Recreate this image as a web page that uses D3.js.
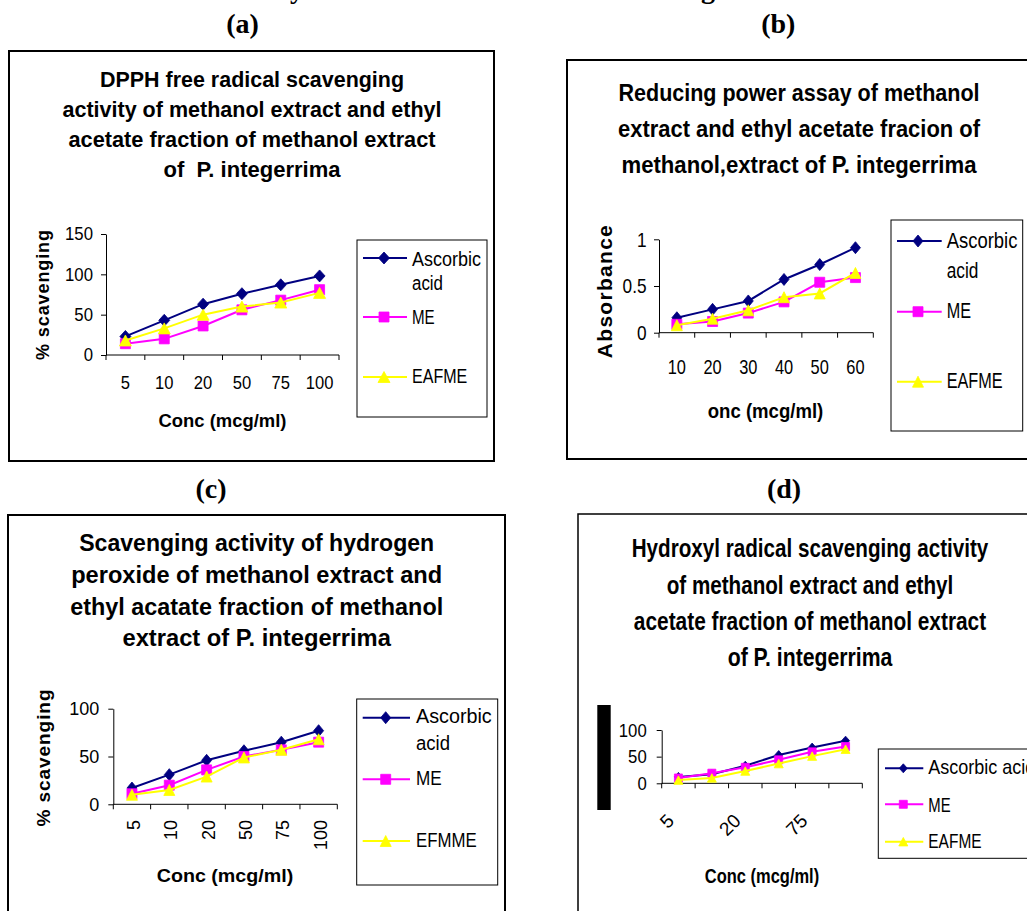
<!DOCTYPE html>
<html><head><meta charset="utf-8">
<script src="https://cdn.jsdelivr.net/npm/d3@7/dist/d3.min.js"></script>
<style>body{margin:0;background:#fff;} svg{display:block;} text{white-space:pre;}</style>
</head><body>
<svg id="chart" width="1027" height="911"></svg>
<script>
// ---------------- data ----------------
const seriesNames = ["Ascorbic acid", "ME", "EAFME"];
const seriesNamesC = ["Ascorbic acid", "ME", "EFMME"];

const catsA = ["5", "10", "20", "50", "75", "100"];
const ascorbicA = [23, 43, 63, 76, 87, 98];
const meA = [14, 20, 36, 56, 68, 81];
const eafmeA = [18, 33, 50, 60, 65, 77];
const yTicksA = [0, 50, 100, 150];

const catsB = ["10", "20", "30", "40", "50", "60"];
const ascorbicB = [0.16, 0.25, 0.34, 0.57, 0.73, 0.91];
const meB = [0.09, 0.12, 0.21, 0.33, 0.54, 0.59];
const eafmeB = [0.08, 0.15, 0.24, 0.38, 0.42, 0.64];
const yTicksB = [0, 0.5, 1];

const catsC = ["5", "10", "20", "50", "75", "100"];
const ascorbicC = [17, 31, 46, 56, 65, 77];
const meC = [11, 20, 36, 50, 57, 65];
const efmmeC = [10, 15, 29, 49, 57, 68];
const yTicksC = [0, 50, 100];

const catsD = ["5", "10", "20", "50", "75", "100"];
const shownLabelsD = ["5", "20", "75"];
const ascorbicD = [12, 17, 33, 53, 67, 80];
const meD = [10, 19, 30, 44, 59, 69];
const eafmeD = [6, 10, 23, 37, 51, 64];
const yTicksD = [0, 50, 100];

const titleA = ["DPPH free radical scavenging", "activity of methanol extract and ethyl", "acetate fraction of methanol extract", "of  P. integerrima"];
const titleB = ["Reducing power assay of methanol", "extract and ethyl acetate fracion of", "methanol,extract of P. integerrima"];
const titleC = ["Scavenging activity of hydrogen", "peroxide of methanol extract and", "ethyl acatate fraction of methanol", "extract of P. integerrima"];
const titleD = ["Hydroxyl radical scavenging activity", "of methanol extract and ethyl", "acetate fraction of methanol extract", "of P. integerrima"];

// ---------------- drawing ----------------
const svg = d3.select("#chart");
const SANS = '"Liberation Sans", Arial, sans-serif';
const SERIF = '"Liberation Serif", "Times New Roman", serif';
const colors = ["#000080", "#FF00FF", "#FFFF00"];

function txt(parent, s, x, y, o) {
  const t = parent.append("text").attr("x", x).attr("y", y).text(s)
    .attr("font-family", o.serif ? SERIF : SANS)
    .attr("font-size", o.size)
    .attr("font-weight", o.bold ? "bold" : "normal")
    .attr("text-anchor", o.anchor || "start")
    .attr("fill", "#000");
  if (o.len) t.attr("textLength", o.len).attr("lengthAdjust", o.adjust || "spacingAndGlyphs");
  if (o.transform) t.attr("transform", o.transform);
  return t;
}
function condense(sel, f) {
  sel.each(function () {
    const L = this.getComputedTextLength();
    this.setAttribute("textLength", L * f);
    this.setAttribute("lengthAdjust", "spacingAndGlyphs");
  });
}
function marker(g, kind, x, y, m, color) {
  let d;
  if (kind === 0) d = `M${x},${y - m.dh}L${x + m.dw},${y}L${x},${y + m.dh}L${x - m.dw},${y}Z`;
  else if (kind === 1) d = `M${x - m.s},${y - m.s}h${2 * m.s}v${2 * m.s}h${-2 * m.s}Z`;
  else d = `M${x},${y - m.th / 2}L${x + m.tw / 2},${y + m.th / 2}L${x - m.tw / 2},${y + m.th / 2}Z`;
  g.append("path").attr("d", d).attr("fill", color).attr("stroke", color).attr("stroke-width", 0.8);
}

function panel(c) {
  const g = svg.append("g");
  g.append("rect").attr("x", c.frame[0]).attr("y", c.frame[1]).attr("width", c.frame[2]).attr("height", c.frame[3])
    .attr("fill", "none").attr("stroke", "#000").attr("stroke-width", c.frameW);
  txt(g, c.label[0], c.label[1], c.label[2], { serif: true, bold: true, size: 28, anchor: "middle" });
  c.title.forEach((s, i) => txt(g, s, c.titleX, c.titleY[i], { bold: true, size: c.titleSize, anchor: "middle", len: c.titleLen[i] }));

  const x = d3.scaleBand().domain(c.cats).range([c.x0, c.x1]).padding(0);
  const y = d3.scaleLinear().domain([0, c.yMax]).range([c.y0, c.y1]);
  const cx = d => x(d) + x.bandwidth() / 2;

  const ya = g.append("g").attr("transform", `translate(${c.x0},0)`)
    .call(d3.axisLeft(y).tickValues(c.yTicks).tickSize(5).tickPadding(c.yPad).tickFormat(d => String(d)).tickSizeOuter(0));
  ya.select(".domain").attr("stroke", "#000");
  ya.selectAll(".tick line").attr("stroke", "#000");
  ya.selectAll(".tick text").attr("font-family", SANS).attr("font-size", c.yLabSize).attr("fill", "#000");
  if (c.yLabCond) condense(ya.selectAll(".tick text"), c.yLabCond);

  const xa = g.append("g").attr("transform", `translate(0,${c.y0})`);
  xa.append("line").attr("x1", c.x0).attr("x2", c.x1).attr("stroke", "#000");
  const edges = c.cats.map(d => x(d)).concat([c.x1]);
  xa.selectAll("line.tk").data(edges).join("line").attr("class", "tk")
    .attr("x1", d => d).attr("x2", d => d).attr("y1", 0).attr("y2", 5).attr("stroke", "#000");

  const labs = c.cats.filter(d => !c.shown || c.shown.includes(d));
  labs.forEach(d => {
    let t;
    if (c.xRot === -90) {
      t = txt(g, d, 0, 0, { size: c.xLabSize, anchor: "end", transform: `translate(${cx(d) + 8},${c.xLabY}) rotate(-90)` });
    } else if (c.xRot === -45) {
      t = txt(g, d, 0, 0, { size: c.xLabSize, anchor: "end", transform: `translate(${cx(d) - 3.3},${c.xLabY}) rotate(-45)` });
    } else {
      t = txt(g, d, cx(d), c.xLabY, { size: c.xLabSize, anchor: "middle" });
    }
    if (c.xLabCond) condense(t, c.xLabCond);
  });

  txt(g, c.xTitle[0], c.xTitle[1], c.xTitle[2], { bold: true, size: c.xTitle[3], anchor: "middle", len: c.xTitle[4] });
  if (c.yTitle) {
    txt(g, c.yTitle[0], 0, 0, { bold: true, size: c.yTitle[3], anchor: "middle", len: c.yTitle[4], adjust: "spacing",
      transform: `translate(${c.yTitle[1]},${c.yTitle[2]}) rotate(-90)` });
  }
  if (c.blackBar) {
    g.append("rect").attr("x", c.blackBar[0]).attr("y", c.blackBar[1]).attr("width", c.blackBar[2]).attr("height", c.blackBar[3]).attr("fill", "#000");
  }

  const line = d3.line().x((v, i) => cx(c.cats[i])).y(v => y(v));
  c.series.forEach((vals, k) => {
    const sg = g.append("g");
    sg.append("path").attr("d", line(vals)).attr("fill", "none").attr("stroke", colors[k]).attr("stroke-width", c.lw);
    vals.forEach((v, i) => marker(sg, k, cx(c.cats[i]), y(v), c.m, colors[k]));
  });

  const L = c.legend;
  g.append("rect").attr("x", L.box[0]).attr("y", L.box[1]).attr("width", L.box[2]).attr("height", L.box[3])
    .attr("fill", "#fff").attr("stroke", "#000").attr("stroke-width", 1);
  c.names.forEach((nm, k) => {
    g.append("line").attr("x1", L.lx[0]).attr("x2", L.lx[1]).attr("y1", L.rows[k]).attr("y2", L.rows[k])
      .attr("stroke", colors[k]).attr("stroke-width", c.lw);
    marker(g, k, L.mx, L.rows[k], c.m, colors[k]);
    L.texts[k].forEach(tl => txt(g, tl[0], L.tx, tl[1], { size: L.size, len: tl[2] }));
  });
}

// clipped descenders of a heading above the figure (cut off in the reference too)
txt(svg, "y", 297, -2, { serif: true, bold: true, size: 28, anchor: "middle" });
txt(svg, "g", 708, -2, { serif: true, bold: true, size: 28, anchor: "middle" });

panel({
  frame: [9, 51, 485, 410], frameW: 2, label: ["(a)", 242.5, 33],
  title: titleA, titleX: 252, titleY: [87, 117, 147, 177], titleSize: 22, titleLen: [304, 379, 367, 177],
  cats: catsA, series: [ascorbicA, meA, eafmeA], names: seriesNames, yTicks: yTicksA, yMax: 150,
  x0: 106, x1: 339, y0: 355, y1: 234, yPad: 8, yLabSize: 18, yLabCond: 0.93, xLabSize: 18, xLabCond: 0.92, xLabY: 389,
  xTitle: ["Conc (mcg/ml)", 222.5, 427, 18, 128], yTitle: ["% scavenging", 49, 295, 18, 130],
  lw: 2, m: { dw: 5.5, dh: 6, s: 5, tw: 12, th: 11 },
  legend: { box: [357, 240, 130, 177], lx: [363, 407], mx: 384, rows: [258, 317, 377], tx: 412, size: 20,
    texts: [[["Ascorbic", 265.5, 69], ["acid", 289.5, 31]], [["ME", 323.5, 22.7]], [["EAFME", 382.5, 55.3]]] }
});

panel({
  frame: [567, 60, 470, 399], frameW: 2, label: ["(b)", 778.3, 33],
  title: titleB, titleX: 799, titleY: [100.7, 137.3, 173.3], titleSize: 24, titleLen: [361, 362, 355],
  cats: catsB, series: [ascorbicB, meB, eafmeB], names: seriesNames, yTicks: yTicksB, yMax: 1,
  x0: 659, x1: 873.3, y0: 332.7, y1: 239.3, yPad: 7.5, yLabSize: 21, yLabCond: 0.82, xLabSize: 21, xLabCond: 0.78, xLabY: 374,
  xTitle: ["onc (mcg/ml)", 765.5, 418, 20, 115.6], yTitle: ["Absorbance", 611.7, 291.7, 21, 133],
  lw: 2, m: { dw: 5, dh: 6, s: 5, tw: 11, th: 11 },
  legend: { box: [891, 220, 131.7, 211], lx: [897, 941.7], mx: 918, rows: [241, 311.7, 381.7], tx: 946.7, size: 22,
    texts: [[["Ascorbic", 248.3, 70.7], ["acid", 277.7, 31.7]], [["ME", 318.3, 24.3]], [["EAFME", 388.3, 56]]] }
});

panel({
  frame: [8, 515, 497, 420], frameW: 2, label: ["(c)", 211, 498],
  title: titleC, titleX: 256.7, titleY: [551, 582.7, 615, 646], titleSize: 23, titleLen: [355, 371, 373, 268.4],
  cats: catsC, series: [ascorbicC, meC, efmmeC], names: seriesNamesC, yTicks: yTicksC, yMax: 100,
  x0: 113.3, x1: 337.3, y0: 804.3, y1: 708.7, yPad: 9, yLabSize: 18, xLabSize: 18, xLabY: 820, xRot: -90,
  xTitle: ["Conc (mcg/ml)", 225, 881.7, 19, 136.6], yTitle: ["% scavenging", 50, 758, 19, 137],
  lw: 2, m: { dw: 5, dh: 6, s: 5, tw: 11, th: 11 },
  legend: { box: [356.7, 699, 141, 186], lx: [362.7, 410], mx: 385.7, rows: [717.7, 779.3, 841], tx: 416, size: 20,
    texts: [[["Ascorbic", 723.3, 75.7], ["acid", 750, 34]], [["ME", 785, 25.7]], [["EFMME", 847.3, 60.7]]] }
});

panel({
  frame: [578, 514, 460, 420], frameW: 1.5, label: ["(d)", 784, 498],
  title: titleD, titleX: 810, titleY: [557.3, 594, 630, 666], titleSize: 25, titleLen: [356.6, 286.6, 352.3, 164.6],
  cats: catsD, shown: shownLabelsD, series: [ascorbicD, meD, eafmeD], names: seriesNames, yTicks: yTicksD, yMax: 100,
  x0: 661.7, x1: 862.3, y0: 783.3, y1: 730, yPad: 10, yLabSize: 19, yLabCond: 0.88, xLabSize: 19, xLabY: 822, xRot: -45,
  xTitle: ["Conc (mcg/ml)", 762, 883.3, 21, 114.3], blackBar: [597.3, 705, 13.4, 105],
  lw: 2, m: { dw: 4, dh: 4.5, s: 4, tw: 9, th: 8.5 },
  legend: { box: [878.3, 749, 200, 109.3], lx: [885, 923.3], mx: 903.3, rows: [768.3, 804.3, 841.7], tx: 928.3, size: 21,
    texts: [[["Ascorbic acid", 774, 107]], [["ME", 811.5, 22.3]], [["EAFME", 848.3, 53.3]]] }
});
</script>
</body></html>
